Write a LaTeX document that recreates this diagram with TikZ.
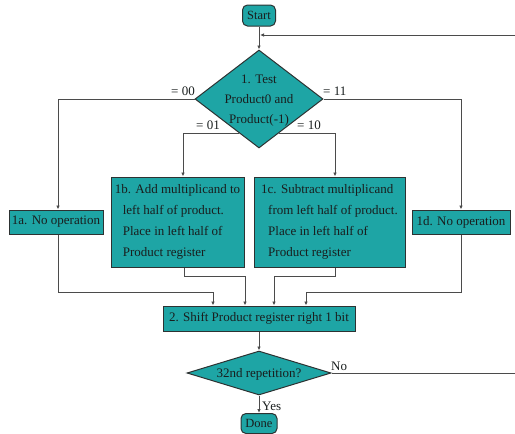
\documentclass[tikz,border=0pt]{standalone}
\usepackage{fontspec}
\setmainfont{Liberation Serif}
\usetikzlibrary{shapes.geometric,arrows.meta,calc}
\definecolor{tealfill}{RGB}{30,165,165}
\definecolor{edgecol}{RGB}{45,50,50}
\definecolor{wirecol}{RGB}{75,75,75}
\definecolor{inkcol}{RGB}{25,30,30}
\begin{document}
\begin{tikzpicture}[x=1pt,y=-1pt,
  every node/.style={font=\fontsize{13}{21}\selectfont, text=inkcol},
  box/.style={draw=edgecol, fill=tealfill, line width=1pt, inner sep=0pt},
  term/.style={box, rounded corners=5pt},
  dia/.style={box, diamond},
  lbl/.style={inner sep=0pt},
  arr/.style={draw=wirecol, line width=1pt, -{Latex[length=4pt,width=3.5pt]}},
  wire/.style={draw=wirecol, line width=1pt}]
\useasboundingbox (0,0) rectangle (515,434);

% nodes
\node[term, minimum width=33pt, minimum height=21pt, font=\fontsize{12.5}{14}\selectfont] (start) at (259,15.5) {Start};
\node[dia, minimum width=128pt, minimum height=98pt] (d1) at (259,99)
  {\raisebox{-3.25pt}[0pt][0pt]{\makebox[0pt]{\fontsize{13}{20}\selectfont\begin{tabular}{@{}c@{}}1. Test\\Product0 and\\Product(-1)\end{tabular}}}};
\node[box, minimum width=94pt, minimum height=24pt] (na) at (56,222) {1a. No operation};
\node[box, minimum width=133pt, minimum height=90pt, align=left] (nb) at (177.5,222)
  {1b. Add multiplicand to\\\hspace*{8pt}left half of product.\\\hspace*{8pt}Place in left half of\\\hspace*{8pt}Product register};
\node[box, minimum width=151pt, minimum height=90pt, align=left] (nc) at (329.5,222)
  {1c. Subtract multiplicand\\\hspace*{7pt}from left half of product.\\\hspace*{7pt}Place in left half of\\\hspace*{7pt}Product register};
\node[box, minimum width=98pt, minimum height=24pt] (nd) at (461,222) {1d. No operation};
\node[box, minimum width=192pt, minimum height=25pt] (n2) at (259,318.5) {2. Shift Product register right 1 bit};
\node[dia, minimum width=144pt, minimum height=44pt] (d2) at (259,373)
  {\raisebox{-4.3pt}[0pt][0pt]{\makebox[0pt]{32nd repetition?}}};
\node[term, minimum width=36pt, minimum height=20pt, font=\fontsize{12.5}{14}\selectfont] (done) at (259,423.5) {Done};

% connectors
\draw[arr] (start.south) -- (d1.north);
\coordinate (loopR) at (515,373);
\coordinate (loopT) at (515,35);
\coordinate (loopJ) at (260,35);
\draw[wire] (d2.east) -- (loopR);
\draw[arr] (loopT) -- (loopJ);

\draw[arr] (d1.west) -| ([xshift=2pt]na.north);
\draw[arr] (d1.east) -| (nd.north);
\coordinate (p01) at ($(d1.west)!0.694!(d1.south)$);
\coordinate (p10) at ($(d1.east)!0.694!(d1.south)$);
\draw[arr] (p01) -| ([xshift=5.5pt]nb.north);
\draw[arr] (p10) -| ([xshift=5.5pt]nc.north);

\draw[arr] ([xshift=2pt]na.south) -- ++(0,58) -| ([xshift=-46pt]n2.north);
\draw[arr] ([xshift=6.5pt]nb.south) -- ++(0,9) -| ([xshift=-14pt]n2.north);
\draw[arr] ([xshift=5.5pt]nc.south) -- ++(0,9) -| ([xshift=15pt]n2.north);
\draw[arr] (nd.south) -- ++(0,58) -| ([xshift=47pt]n2.north);

\draw[arr] (n2.south) -- (d2.north);
\draw[arr] (d2.south) -- (done.north);

% labels
\node[lbl, anchor=base east] (l00) at (195,95) {= 00};
\node[lbl, anchor=base west] (l11) at (323,95) {= 11};
\node[lbl, anchor=base east] (l01) at (220,129) {= 01};
\node[lbl, anchor=base west] (l10) at (297,129) {= 10};
\node[lbl, anchor=base west] (lno) at (331,370) {No};
\node[lbl, anchor=base west] (lyes) at (262,410) {Yes};
\end{tikzpicture}
\end{document}
